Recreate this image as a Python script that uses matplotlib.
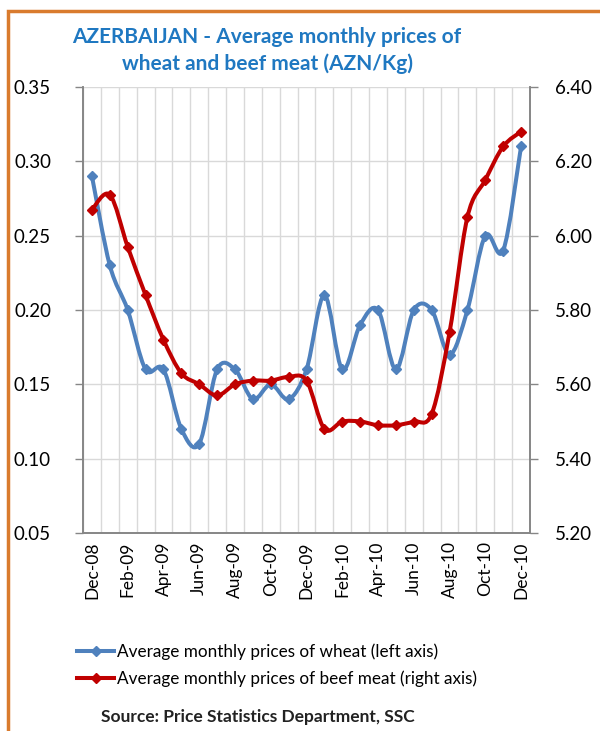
import matplotlib
matplotlib.use('Agg')
import matplotlib.pyplot as plt
from matplotlib.path import Path
from matplotlib.patches import PathPatch, Rectangle
from matplotlib.lines import Line2D
import numpy as np

plt.rcParams['font.family'] = ['Lato', 'DejaVu Sans']

months = ['Dec-08', 'Jan-09', 'Feb-09', 'Mar-09', 'Apr-09', 'May-09', 'Jun-09',
          'Jul-09', 'Aug-09', 'Sep-09', 'Oct-09', 'Nov-09', 'Dec-09',
          'Jan-10', 'Feb-10', 'Mar-10', 'Apr-10', 'May-10', 'Jun-10',
          'Jul-10', 'Aug-10', 'Sep-10', 'Oct-10', 'Nov-10', 'Dec-10']
wheat = [0.29, 0.23, 0.20, 0.16, 0.16, 0.12, 0.11, 0.16, 0.16, 0.14, 0.15, 0.14, 0.16,
         0.21, 0.16, 0.19, 0.20, 0.16, 0.20, 0.20, 0.17, 0.20, 0.25, 0.24, 0.31]
beef = [6.07, 6.11, 5.97, 5.84, 5.72, 5.63, 5.60, 5.57, 5.60, 5.61, 5.61, 5.62, 5.61,
        5.48, 5.50, 5.50, 5.49, 5.49, 5.50, 5.52, 5.74, 6.05, 6.15, 6.24, 6.28]

wheatColor = '#4F81BD'
beefColor = '#C00000'
titleColor = '#1F78C1'
gridColor = '#D9D9D9'
axisColor = '#868686'


def smoothPath(xs, ys):
    """Excel-like smoothed line: cubic bezier segments through every point"""
    pts = np.column_stack([xs, ys]).astype(float)
    n = len(pts)
    verts = [pts[0]]
    codes = [Path.MOVETO]
    for i in range(n - 1):
        p0 = pts[max(i - 1, 0)]
        p1 = pts[i]
        p2 = pts[i + 1]
        p3 = pts[min(i + 2, n - 1)]
        c1 = p1 + (p2 - p0) / 6.0
        c2 = p2 - (p3 - p1) / 6.0
        verts += [c1, c2, p2]
        codes += [Path.CURVE4] * 3
    return Path(verts, codes)


fig = plt.figure(figsize=(6, 7.31), dpi=100)
ax = fig.add_axes([83 / 600, 198 / 731, 447 / 600, 446 / 731])
ax2 = ax.twinx()

x = np.arange(len(months))

ax.add_patch(PathPatch(smoothPath(x, wheat), fill=False, edgecolor=wheatColor, lw=2.9,
                       capstyle='round', joinstyle='round', zorder=3))
ax.plot(x, wheat, linestyle='none', marker='D', ms=5, color=wheatColor, zorder=4)
ax2.add_patch(PathPatch(smoothPath(x, beef), fill=False, edgecolor=beefColor, lw=2.9,
                        capstyle='round', joinstyle='round', zorder=3))
ax2.plot(x, beef, linestyle='none', marker='D', ms=5, color=beefColor, zorder=4)

ax.set_xlim(-0.5, len(months) - 0.5)
ax.set_ylim(0.05, 0.35)
ax2.set_ylim(5.20, 6.40)
ax.set_yticks(np.arange(0.05, 0.351, 0.05))
ax.set_yticklabels(['%.2f' % v for v in np.arange(0.05, 0.351, 0.05)])
ax2.set_yticks(np.arange(5.2, 6.401, 0.2))
ax2.set_yticklabels(['%.2f' % v for v in np.arange(5.2, 6.401, 0.2)])

ax.set_xticks(x[::2])
ax.set_xticklabels(months[::2], rotation=90)
ax.set_xticks(np.arange(-0.5, len(months), 1), minor=True)
ax.tick_params(axis='x', which='both', length=0, labelsize=12.5, pad=6)
ax.tick_params(axis='y', length=6, width=1, color=axisColor, labelsize=13.5, pad=17)
ax2.tick_params(axis='y', length=6, width=1, color=axisColor, labelsize=13.5, pad=12)

ax.grid(True, axis='y', color=gridColor, lw=1)
ax.grid(True, axis='x', which='minor', color=gridColor, lw=1)
ax.set_axisbelow(True)

for a in (ax, ax2):
    a.spines['top'].set_visible(False)
    for s in ('left', 'right', 'bottom'):
        a.spines[s].set_color(axisColor)
        a.spines[s].set_linewidth(1.2)

fig.text(267 / 600, 1 - 37 / 731, 'AZERBAIJAN - Average monthly prices of',
         ha='center', va='center', fontsize=15, fontweight='bold', color=titleColor)
fig.text(267 / 600, 1 - 64 / 731, 'wheat and beef meat (AZN/Kg)',
         ha='center', va='center', fontsize=15, fontweight='bold', color=titleColor)

handles = [Line2D([], [], color=wheatColor, lw=2.9, marker='D', ms=5),
           Line2D([], [], color=beefColor, lw=2.9, marker='D', ms=5)]
fig.legend(handles, ['Average monthly prices of wheat (left axis)',
                     'Average monthly prices of beef meat (right axis)'],
           loc='upper left', bbox_to_anchor=(70 / 600, 1 - 637 / 731), frameon=False,
           fontsize=12.3, handlelength=2.2, handletextpad=0.15, labelspacing=0.6,
           borderaxespad=0)

fig.text(258 / 600, 1 - 717 / 731, 'Source: Price Statistics Department, SSC',
         ha='center', va='center', fontsize=12.5, fontweight='bold', color='#222222')

fig.add_artist(Rectangle((8 / 600, -0.05), 1.2, 1 - 11 / 731 + 0.05, transform=fig.transFigure,
                         fill=False, edgecolor='#D97B2E', lw=2.5))

fig.savefig('out.png', dpi=100)
